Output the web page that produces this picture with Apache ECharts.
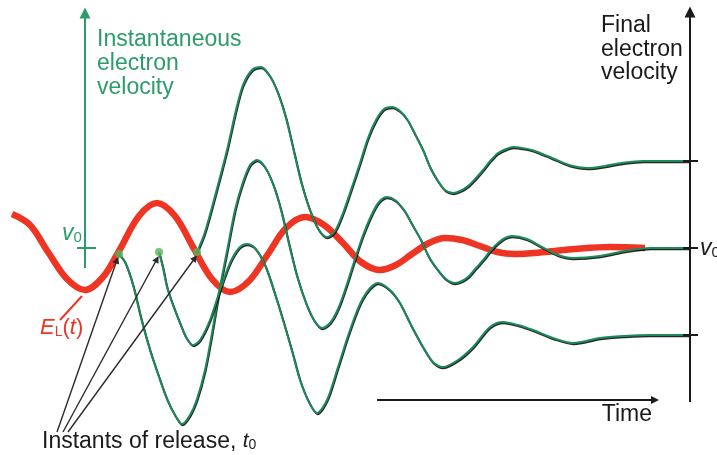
<!DOCTYPE html>
<html>
<head>
<meta charset="utf-8">
<script src="https://cdn.jsdelivr.net/npm/echarts@6/dist/echarts.min.js"></script>
<style>
html,body{margin:0;padding:0;background:#fff;}
#chart{width:717px;height:455px;}
</style>
</head>
<body>
<div id="chart"></div>
<script>
// time (arbitrary units), velocity / field relative to v0 (arbitrary units)
const fieldE = [[12,34],[30,23],[48,-4],[67,-31],[85,-42],[103,-29],[119,-3],[139,32],[157,45],[175,32],[193,1],[212,-31],[230,-44],[249,-33],[268,-6],[286,20],[305,31],[324,23],[343,5],[361,-14],[380,-22],[396,-17],[412,-6],[429,5],[445,10],[462,8],[480,2],[497,-4],[515,-6],[545,-4],[575,-1],[610,1],[645,0]];

const electronHigh = [[197,-4],[205,16],[215,52],[227,98],[236,138],[243,163],[252,178],[261,181],[270,172],[278,155],[286,130],[294,96],[302,63],[311,35],[319,18],[327,11],[335,17],[343,35],[351,58],[360,85],[368,110],[376,128],[384,139],[392,141],[400,137],[407,129],[415,114],[423,98],[430,81],[438,67],[445,58],[453,55],[460,57],[468,62],[476,70],[483,78],[491,88],[498,95],[506,99],[513,101],[522,100],[532,98],[550,91],[569,83],[588,80],[605,82],[622,85],[643,87],[690,87]];

const electronMid = [[119,-6],[125,-14],[133,-37],[141,-70],[150,-102],[159,-129],[167,-151],[175,-167],[182,-176],[190,-167],[197,-151],[205,-122],[212,-85],[219,-44],[227,-3],[235,38],[242,63],[250,83],[257,88],[265,81],[273,64],[281,38],[289,4],[297,-28],[306,-55],[314,-72],[322,-80],[330,-75],[338,-61],[346,-39],[354,-14],[362,10],[371,32],[379,46],[387,51],[395,48],[404,38],[412,24],[421,8],[429,-9],[438,-22],[446,-31],[455,-35],[462,-33],[469,-28],[476,-20],[484,-11],[491,-2],[498,5],[505,10],[512,12],[527,9],[542,1],[558,-7],[573,-10],[600,-8],[625,-3],[650,0],[690,0]];

const electronLow = [[159,-4],[163,-20],[167,-39],[173,-57],[180,-75],[186,-89],[193,-97],[200,-92],[210,-72],[220,-42],[230,-15],[239,0],[247,4],[255,0],[265,-17],[274,-43],[283,-72],[292,-103],[300,-132],[309,-154],[317,-165],[327,-152],[338,-119],[350,-82],[363,-50],[378,-35],[390,-42],[400,-55],[411,-77],[423,-99],[433,-114],[443,-119],[458,-112],[473,-99],[490,-79],[503,-74],[518,-77],[533,-82],[553,-90],[573,-95],[600,-90],[625,-88],[650,-87],[690,-87]];

const releaseInstants = [[119,-6],[159,-4],[197,-4]];
const finalLevels = [87, 0, -87];

const FONT = "'Liberation Sans', Arial, sans-serif";
const GREEN = '#1d8a5b';
const TEXTGREEN = '#2c9c6a';
const RED = '#ee3524';

const curveStyle = {color: GREEN, width: 2, shadowColor: 'rgba(0,0,0,0.85)', shadowBlur: 0, shadowOffsetX: 0.6, shadowOffsetY: 1.2};

function seg(a, b) { return {coords: [a, b]}; }

const chart = echarts.init(document.getElementById('chart'), null, {renderer: 'canvas'});
chart.setOption({
  animation: false,
  backgroundColor: '#fff',
  grid: {left: 0, right: 0, top: 0, bottom: 0},
  xAxis: {type: 'value', min: 0, max: 717, show: false},
  yAxis: {type: 'value', min: -207, max: 248, show: false},
  series: [
    {type: 'line', data: fieldE, smooth: 0.35, symbol: 'none', z: 2,
     lineStyle: {color: RED, width: 6.5, cap: 'butt'}},
    {type: 'line', data: electronHigh, smooth: 0.3, symbol: 'none', z: 3, lineStyle: curveStyle},
    {type: 'line', data: electronMid, smooth: 0.3, symbol: 'none', z: 3, lineStyle: curveStyle},
    {type: 'line', data: electronLow, smooth: 0.3, symbol: 'none', z: 3, lineStyle: curveStyle},
    // left (instantaneous velocity) axis
    {type: 'lines', coordinateSystem: 'cartesian2d', z: 4, symbol: ['none', 'triangle'], symbolSize: [0, 11],
     lineStyle: {color: TEXTGREEN, width: 2, opacity: 1, curveness: 0},
     data: [seg([85, -20], [85, 235])]},
    {type: 'lines', coordinateSystem: 'cartesian2d', z: 4, symbol: 'none',
     lineStyle: {color: TEXTGREEN, width: 2, opacity: 1, curveness: 0},
     data: [seg([77, 0], [96, 0])]},
    // right (final velocity) axis
    {type: 'lines', coordinateSystem: 'cartesian2d', z: 4, symbol: ['none', 'triangle'], symbolSize: [0, 11],
     lineStyle: {color: '#1a1a1a', width: 2, opacity: 1, curveness: 0},
     data: [seg([690, -154], [690, 236])]},
    {type: 'lines', coordinateSystem: 'cartesian2d', z: 4, symbol: 'none',
     lineStyle: {color: '#1a1a1a', width: 2, opacity: 1, curveness: 0},
     data: finalLevels.map(v => seg([683, v], [698, v]))},
    // time axis
    {type: 'lines', coordinateSystem: 'cartesian2d', z: 4, symbol: ['none', 'triangle'], symbolSize: [0, 8],
     lineStyle: {color: '#1a1a1a', width: 2, opacity: 1, curveness: 0},
     data: [seg([377, -152], [655, -152])]},
    // arrows pointing to instants of release
    {type: 'lines', coordinateSystem: 'cartesian2d', z: 5, symbol: ['none', 'triangle'], symbolSize: [0, 7],
     lineStyle: {color: '#2b2b2b', width: 1.4, opacity: 1, curveness: 0},
     data: [seg([57, -184], [117, -12]), seg([63, -184], [157, -11]), seg([68, -184], [195, -10])]},
    // E_L leader
    {type: 'lines', coordinateSystem: 'cartesian2d', z: 4, symbol: 'none',
     lineStyle: {color: RED, width: 2, opacity: 1, curveness: 0},
     data: [seg([82, -48], [60, -72])]},
    {type: 'scatter', data: releaseInstants, symbolSize: 8, z: 6,
     itemStyle: {color: '#56b45a'}}
  ],
  graphic: [
    {type: 'text', left: 97, top: 28, z: 10, style: {text: 'Instantaneous\nelectron\nvelocity', fill: TEXTGREEN, font: '23px ' + FONT, lineHeight: 24}},
    {type: 'text', left: 601, top: 14, z: 10, style: {text: 'Final\nelectron\nvelocity', fill: '#1a1a1a', font: '23px ' + FONT, lineHeight: 23.5}},
    {type: 'text', right: 65, top: 403, z: 10, style: {text: 'Time', fill: '#1a1a1a', font: '23px ' + FONT}},
    {type: 'text', left: 42, top: 430, z: 10, style: {
      text: 'Instants of release, {t|t}{s|0}', fill: '#1a1a1a', font: '23px ' + FONT,
      rich: {t: {font: 'italic 21px ' + FONT, fill: '#1a1a1a'}, s: {font: '14px ' + FONT, fill: '#1a1a1a', padding: [8, 0, 0, 0]}}}},
    {type: 'text', left: 62, top: 222, z: 10, style: {
      text: '{v|v}{s|0}', rich: {v: {font: 'italic 23px ' + FONT, fill: TEXTGREEN}, s: {font: '15px ' + FONT, fill: TEXTGREEN, padding: [9, 0, 0, 0]}}}},
    {type: 'text', left: 700, top: 237, z: 10, style: {
      text: '{v|v}{s|0}', rich: {v: {font: 'italic 23px ' + FONT, fill: '#1a1a1a'}, s: {font: '15px ' + FONT, fill: '#1a1a1a', padding: [9, 0, 0, 0]}}}},
    {type: 'text', left: 40, top: 317, z: 10, style: {
      text: '{e|E}{l|L}{p|(}{t|t}{p|)}', rich: {
        e: {font: 'italic 22px ' + FONT, fill: RED},
        l: {font: '14px ' + FONT, fill: RED, padding: [9, 0, 0, 0]},
        p: {font: '22px ' + FONT, fill: RED},
        t: {font: 'italic 22px ' + FONT, fill: RED}}}}
  ]
});
</script>
</body>
</html>
